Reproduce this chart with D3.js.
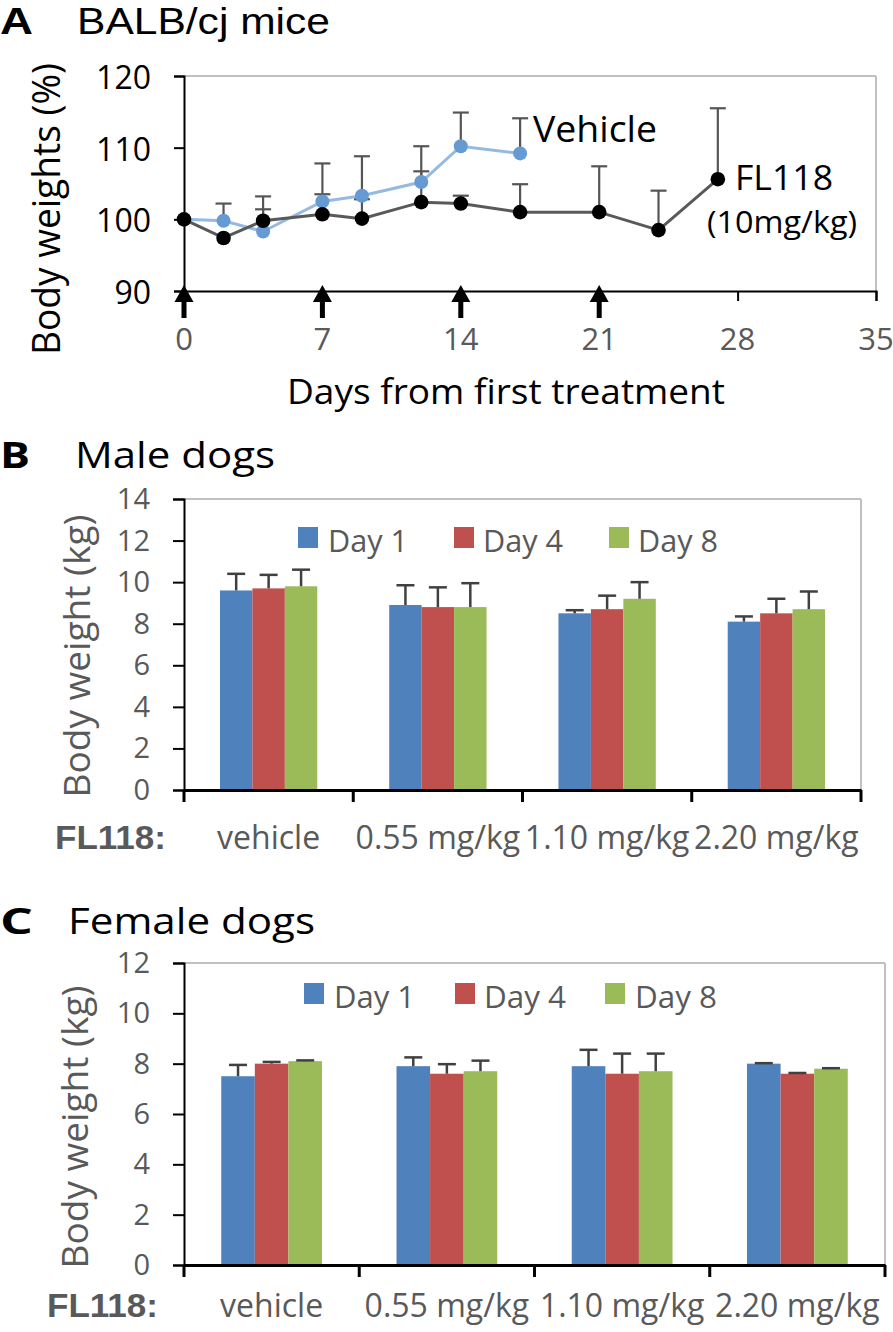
<!DOCTYPE html>
<html><head><meta charset="utf-8">
<script src="https://cdn.jsdelivr.net/npm/d3@7"></script>
<style>html,body{margin:0;padding:0;background:#fff;}svg{display:block;font-family:"Open Sans",sans-serif;}</style>
</head><body>
<svg id="c" width="893" height="1332"></svg>
<script>
// ---------- Panel A data ----------
const vehicleDays = [0, 2, 4, 7, 9, 12, 14, 17];
const vehicleMean = [100, 99.8, 98.3, 102.5, 103.3, 105.2, 110.2, 109.2];
const vehicleSD   = [0, 2.4, 3.1, 5.3, 5.5, 5.0, 4.7, 4.9];
const fl118Days = [0, 2, 4, 7, 9, 12, 14, 17, 21, 24, 27];
const fl118Mean = [100, 97.4, 99.8, 100.7, 100.1, 102.4, 102.2, 101.0, 101.0, 98.5, 105.6];
const fl118SD   = [0, 0, 3.4, 2.8, 2.7, 4.3, 1.1, 3.9, 6.4, 5.5, 9.9];
const treatmentDays = [0, 7, 14, 21];
const dayTicks = [0, 7, 14, 21, 28, 35];
const pctTicks = [90, 100, 110, 120];

// ---------- Panels B/C data ----------
const doseGroups = ["vehicle", "0.55 mg/kg", "1.10 mg/kg", "2.20 mg/kg"];
const seriesNames = ["Day 1", "Day 4", "Day 8"];
const seriesColors = ["#4f81bd", "#c0504d", "#9bbb59"];
const maleDay1 = [9.6, 8.9, 8.5, 8.1];
const maleDay4 = [9.7, 8.8, 8.7, 8.5];
const maleDay8 = [9.8, 8.8, 9.2, 8.7];
const maleSD1 = [0.8, 0.95, 0.15, 0.25];
const maleSD4 = [0.65, 0.95, 0.65, 0.7];
const maleSD8 = [0.8, 1.15, 0.8, 0.85];
const femaleDay1 = [7.5, 7.9, 7.9, 8.0];
const femaleDay4 = [8.0, 7.6, 7.6, 7.6];
const femaleDay8 = [8.1, 7.7, 7.7, 7.8];
const femaleSD1 = [0.45, 0.35, 0.65, 0.02];
const femaleSD4 = [0.07, 0.38, 0.8, 0.03];
const femaleSD8 = [0.03, 0.42, 0.7, 0.02];
const maleTicks = [0, 2, 4, 6, 8, 10, 12, 14];
const femaleTicks = [0, 2, 4, 6, 8, 10, 12];

const svg = d3.select("#c");
const GRAY = "#595959";

function txt(g, s, x, y, o) {
  const t = g.append("text").attr("x", x).attr("y", y).text(s)
    .attr("font-size", o.size).attr("fill", o.fill || "#000")
    .attr("text-anchor", o.anchor || "start");
  if (o.family) t.attr("font-family", o.family);
  if (o.bold) t.attr("font-weight", "bold");
  if (o.len) t.attr("textLength", o.len).attr("lengthAdjust", "spacingAndGlyphs");
  if (o.rotate) t.attr("transform", `rotate(-90,${x},${y})`);
  return t;
}

// ================= Panel A =================
(function () {
  const g = svg.append("g");
  const x = d3.scaleLinear().domain([0, 35]).range([184, 876]);
  const y = d3.scaleLinear().domain([90, 120]).range([291, 76]);

  txt(g, "A", 0, 34, {size: 37, bold: true, len: 33, family: "Liberation Sans"});
  txt(g, "BALB/cj mice", 77, 34, {size: 37, len: 253, family: "Liberation Sans"});

  // frame (gray top/right)
  g.append("line").attr("x1", x(0)).attr("x2", x(35)).attr("y1", y(120)).attr("y2", y(120)).attr("stroke", "#c0c0c0").attr("stroke-width", 2);
  g.append("line").attr("x1", x(35)).attr("x2", x(35)).attr("y1", y(120)).attr("y2", y(90)).attr("stroke", "#c0c0c0").attr("stroke-width", 2);

  // axes
  const yAxis = d3.axisLeft(y).tickValues(pctTicks).tickSize(10).tickFormat("");
  const ga = g.append("g").attr("transform", `translate(${x(0)},0)`).call(yAxis);
  ga.select(".domain").attr("stroke", "#000").attr("stroke-width", 2);
  ga.selectAll(".tick line").attr("stroke", "#000").attr("stroke-width", 2);
  const xAxis = d3.axisBottom(x).tickValues(dayTicks).tickSize(10).tickFormat("");
  const gx = g.append("g").attr("transform", `translate(0,${y(90)})`).call(xAxis);
  gx.select(".domain").attr("stroke", "#000").attr("stroke-width", 2);
  gx.selectAll(".tick line").attr("stroke", "#000").attr("stroke-width", 2);

  pctTicks.forEach(v => txt(g, v, 151, y(v) + 13, {size: 32, anchor: "end"}));
  dayTicks.forEach(v => txt(g, v, x(v), 350, {size: 31, anchor: "middle", fill: GRAY}));

  txt(g, "Body weights (%)", 60, 209, {size: 38, anchor: "middle", rotate: true, len: 292});
  txt(g, "Days from first treatment", 287, 404, {size: 35, len: 438});

  // error bars
  function errBars(days, mean, sd) {
    days.forEach((d, i) => {
      if (!sd[i]) return;
      const cx = x(d), y0 = y(mean[i]), y1 = y(mean[i] + sd[i]);
      g.append("line").attr("x1", cx).attr("x2", cx).attr("y1", y0).attr("y2", y1).attr("stroke", "#555").attr("stroke-width", 2.2);
      g.append("line").attr("x1", cx - 8).attr("x2", cx + 8).attr("y1", y1).attr("y2", y1).attr("stroke", "#555").attr("stroke-width", 2.2);
    });
  }
  errBars(vehicleDays, vehicleMean, vehicleSD);
  errBars(fl118Days, fl118Mean, fl118SD);

  const line = d3.line().x(d => x(d[0])).y(d => y(d[1]));
  g.append("path").datum(vehicleDays.map((d, i) => [d, vehicleMean[i]])).attr("d", line)
    .attr("fill", "none").attr("stroke", "#95b9e1").attr("stroke-width", 3);
  g.append("path").datum(fl118Days.map((d, i) => [d, fl118Mean[i]])).attr("d", line)
    .attr("fill", "none").attr("stroke", "#595959").attr("stroke-width", 3);
  vehicleDays.forEach((d, i) => g.append("circle").attr("cx", x(d)).attr("cy", y(vehicleMean[i])).attr("r", 7).attr("fill", "#659ad2"));
  fl118Days.forEach((d, i) => g.append("circle").attr("cx", x(d)).attr("cy", y(fl118Mean[i])).attr("r", 7.3).attr("fill", "#000"));

  // treatment arrows
  treatmentDays.forEach(d => {
    const cx = x(d);
    g.append("path").attr("d", `M${cx},${285} L${cx - 9.5},${302} L${cx + 9.5},${302} Z`).attr("fill", "#000");
    g.append("rect").attr("x", cx - 2.5).attr("y", 300).attr("width", 5).attr("height", 18).attr("fill", "#000");
  });

  txt(g, "Vehicle", 533, 142, {size: 37, len: 124});
  txt(g, "FL118", 735, 190, {size: 34, len: 98});
  txt(g, "(10mg/kg)", 707, 233, {size: 31, len: 150});
})();

// ================= Bar panels =================
function barPanel(o) {
  const g = svg.append("g");
  const x = d3.scaleBand().domain(doseGroups).range([o.x0, o.x1]).paddingInner(0.425).paddingOuter(0.2125);
  const xs = d3.scaleBand().domain(seriesNames).range([0, x.bandwidth()]);
  const y = d3.scaleLinear().domain([0, o.ymax]).range([o.yb, o.yt]);
  const xr = d3.scaleBand().domain(doseGroups).range([o.x0, o.x1]);

  txt(g, o.letter, 0, o.titleY, {size: 36, bold: true, len: o.letterLen});
  txt(g, o.title, o.titleX, o.titleY, {size: 36, len: o.titleLen});

  // gray frame
  g.append("line").attr("x1", o.x0).attr("x2", o.x1).attr("y1", o.yt).attr("y2", o.yt).attr("stroke", "#c0c0c0").attr("stroke-width", 2);
  g.append("line").attr("x1", o.x1).attr("x2", o.x1).attr("y1", o.yt).attr("y2", o.yb).attr("stroke", "#c0c0c0").attr("stroke-width", 2);

  // bars
  const vals = o.series;
  seriesNames.forEach((s, si) => {
    doseGroups.forEach((gname, gi) => {
      const v = vals[si][gi];
      g.append("rect").attr("x", x(gname) + xs(s)).attr("y", y(v))
        .attr("width", xs.bandwidth()).attr("height", y(0) - y(v)).attr("fill", seriesColors[si]);
    });
  });
  // error bars
  seriesNames.forEach((s, si) => {
    doseGroups.forEach((gname, gi) => {
      const v = vals[si][gi], e = o.sd[si][gi];
      const cx = x(gname) + xs(s) + xs.bandwidth() / 2;
      g.append("line").attr("x1", cx).attr("x2", cx).attr("y1", y(v)).attr("y2", y(v + e)).attr("stroke", "#404040").attr("stroke-width", 2.5);
      g.append("line").attr("x1", cx - 9).attr("x2", cx + 9).attr("y1", y(v + e)).attr("y2", y(v + e)).attr("stroke", "#404040").attr("stroke-width", 2.5);
    });
  });

  // axes
  const ya = g.append("g").attr("transform", `translate(${o.x0},0)`)
    .call(d3.axisLeft(y).tickValues(o.ticks).tickSize(11).tickFormat(""));
  ya.select(".domain").attr("stroke", "#000").attr("stroke-width", 2);
  ya.selectAll(".tick line").attr("stroke", "#000").attr("stroke-width", 2);
  o.ticks.forEach(v => txt(g, v, 150, y(v) + 10, {size: 29, anchor: "end", fill: GRAY}));

  const xa = g.append("g").attr("transform", `translate(0,${o.yb})`)
    .call(d3.axisBottom(xr).tickSize(0).tickFormat(""));
  xa.select(".domain").attr("stroke", "#000").attr("stroke-width", 3);
  const edges = doseGroups.map(d => xr(d)).concat([o.x1]);
  edges.forEach(ex => g.append("line").attr("x1", ex).attr("x2", ex).attr("y1", o.yb).attr("y2", o.yb + 12).attr("stroke", "#000").attr("stroke-width", 3));

  doseGroups.forEach(d => txt(g, d, xr(d) + xr.bandwidth() / 2, o.labY, {size: 32, anchor: "middle", fill: GRAY}));
  txt(g, "FL118:", o.flX, o.labY, {size: 34, bold: true, fill: GRAY, len: 111, family: "Liberation Sans"});

  txt(g, "Body weight (kg)", o.ylabX, o.ylabY, {size: 36, anchor: "middle", fill: GRAY, rotate: true, len: o.ylabLen});

  // legend
  o.legend.forEach((L, i) => {
    g.append("rect").attr("x", L[0]).attr("y", o.legY).attr("width", 20).attr("height", 21).attr("fill", seriesColors[i]);
    txt(g, seriesNames[i], L[1], o.legY + 25, {size: 31, fill: GRAY, len: L[2]});
  });
}

barPanel({
  letter: "B", letterLen: 30, title: "Male dogs", titleX: 75, titleY: 468, titleLen: 200,
  x0: 184, x1: 861, yt: 499, yb: 790, ymax: 14, ticks: maleTicks,
  series: [maleDay1, maleDay4, maleDay8], sd: [maleSD1, maleSD4, maleSD8],
  labY: 849, flX: 55, ylabX: 90, ylabY: 656, ylabLen: 283,
  legY: 527, legend: [[298, 328, 80], [454, 483, 80], [609, 638, 80]]
});
barPanel({
  letter: "C", letterLen: 33, title: "Female dogs", titleX: 68, titleY: 934, titleLen: 247,
  x0: 184, x1: 885, yt: 963, yb: 1265, ymax: 12, ticks: femaleTicks,
  series: [femaleDay1, femaleDay4, femaleDay8], sd: [femaleSD1, femaleSD4, femaleSD8],
  labY: 1317, flX: 47, ylabX: 88, ylabY: 1127, ylabLen: 283,
  legY: 983, legend: [[304, 334, 81], [455, 484, 82], [605, 635, 82]]
});
</script>
</body></html>
